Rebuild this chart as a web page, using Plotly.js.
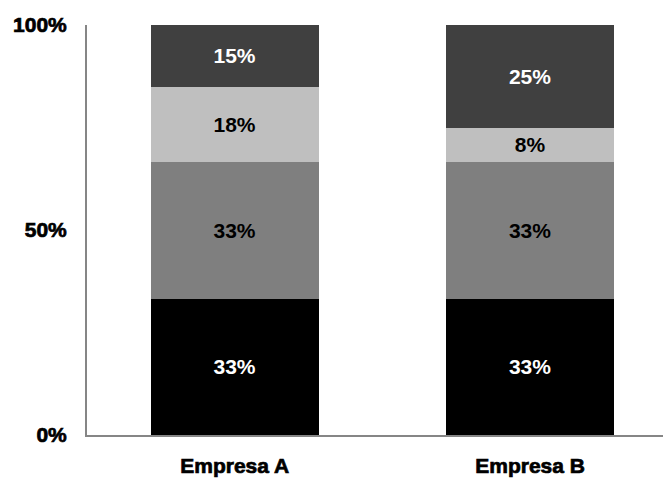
<!DOCTYPE html>
<html>
<head>
<meta charset="utf-8">
<script src="https://cdn.plot.ly/plotly-3.0.1.min.js"></script>
<style>
html,body{margin:0;padding:0;background:#fff;}
#chart{width:663px;height:481px;}
.xtick text, .ytick text{stroke:#000;stroke-width:0.7px;}
</style>
</head>
<body>
<div id="chart"></div>
<script>
const categories = ['Empresa A', 'Empresa B'];
const seriesBlack = [33.2, 33.2];
const seriesMid = [33.4, 33.4];
const seriesLight = [18.4, 8.3];
const seriesDark = [15.0, 25.1];
const yTickVals = [0, 50, 100];
const yTickText = ['0%', '50%', '100%'];

const labelFont = {family: 'Liberation Sans, Arial, sans-serif', size: 21};
function mk(vals, color, textColor) {
  return {
    type: 'bar', x: categories, y: vals,
    marker: {color: color, line: {width: 0}},
    texttemplate: '<b>%{y:.0f}%</b>',
    textposition: 'inside', insidetextanchor: 'middle', textangle: 0,
    constraintext: 'none',
    insidetextfont: Object.assign({color: textColor}, labelFont),
    hoverinfo: 'skip', width: 0.57
  };
}
const data = [
  mk(seriesBlack, '#000000', '#ffffff'),
  mk(seriesMid, '#7f7f7f', '#000000'),
  mk(seriesLight, '#bfbfbf', '#000000'),
  mk(seriesDark, '#404040', '#ffffff')
];
const layout = {
  width: 663, height: 481,
  barmode: 'stack',
  showlegend: false,
  paper_bgcolor: '#fff', plot_bgcolor: '#fff',
  margin: {l: 87, r: 0, t: 25, b: 46, pad: 0},
  font: {family: 'Liberation Sans, Arial, sans-serif', color: '#000'},
  xaxis: {
    range: [-0.5, 1.45], showgrid: false, zeroline: false,
    showline: true, linecolor: '#868686', linewidth: 2,
    ticks: '', ticklabelstandoff: 11,
    tickfont: {family: 'Liberation Sans, Arial, sans-serif', size: 21, weight: 'bold', color: '#000'}
  },
  yaxis: {
    range: [0, 100], showgrid: false, zeroline: false,
    showline: true, linecolor: '#868686', linewidth: 2,
    tickvals: yTickVals, ticktext: yTickText,
    ticks: '', ticklabelstandoff: 14,
    tickfont: {family: 'Liberation Sans, Arial, sans-serif', size: 21, weight: 'bold', color: '#000'}
  }
};
Plotly.newPlot('chart', data, layout, {staticPlot: true, displayModeBar: false});
</script>
</body>
</html>
